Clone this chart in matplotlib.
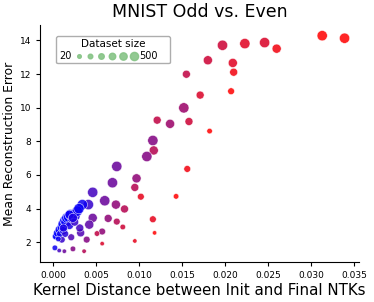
import matplotlib
matplotlib.use('Agg')
import matplotlib.pyplot as plt
import numpy as np

# kernel distance (x), reconstruction error (y), colour param (0=blue,1=red), size level (0..5)
kernel_dist = [0.0313, 0.0339, 0.0197, 0.0223, 0.0246, 0.0260, 0.0180, 0.0209, 0.0210, 0.0155,
               0.0171, 0.0207, 0.0152, 0.0158, 0.0182, 0.0121, 0.0136, 0.0116, 0.0117, 0.0109,
               0.0074, 0.0097, 0.0095, 0.0069, 0.0102, 0.0046, 0.0060, 0.0073, 0.0083, 0.0116,
               0.0046, 0.0064, 0.0074, 0.0081, 0.0057, 0.0051, 0.0118, 0.0095, 0.0057, 0.0143,
               0.0156, 0.0041, 0.0034, 0.0042, 0.0032, 0.0039, 0.0021, 0.0023, 0.0036, 0.0013,
               0.0007, 0.0002, 0.0010, 0.0004,
               0.0003, 0.0005, 0.0007, 0.0008, 0.0010, 0.0011, 0.0012, 0.0013, 0.0015, 0.0016,
               0.0018, 0.0019, 0.0020, 0.0022, 0.0024, 0.0026, 0.0028, 0.0030, 0.0031, 0.0014,
               0.0012, 0.0006, 0.0025, 0.0019, 0.0023]
recon_err = [14.28, 14.13, 13.71, 13.81, 13.87, 13.51, 12.82, 12.66, 12.11, 11.99,
             10.75, 10.98, 9.99, 9.18, 8.61, 9.26, 9.04, 8.05, 7.46, 7.10,
             6.51, 5.80, 5.26, 5.54, 4.71, 4.97, 4.47, 4.24, 3.98, 3.37,
             3.45, 3.42, 3.23, 2.91, 2.64, 2.52, 2.56, 2.08, 1.92, 4.73,
             6.36, 4.24, 4.24, 3.05, 2.56, 2.16, 2.30, 1.61, 1.47, 1.47,
             1.51, 1.67, 2.16, 2.36,
             2.35, 2.55, 2.75, 2.50, 2.90, 3.10, 2.70, 3.30, 3.20, 3.45,
             3.50, 3.00, 3.65, 3.40, 3.70, 3.55, 3.85, 4.00, 2.85, 2.50,
             2.85, 2.20, 3.20, 3.64, 3.45]
hue = [1.0, 1.0, 0.8, 0.88, 0.85, 0.95, 0.8, 0.88, 0.95, 0.75,
       0.85, 1.0, 0.6, 0.8, 1.0, 0.75, 0.6, 0.5, 0.7, 0.5,
       0.4, 0.55, 0.7, 0.4, 0.9, 0.25, 0.4, 0.55, 0.7, 0.9,
       0.4, 0.55, 0.7, 0.8, 0.55, 0.75, 1.0, 0.9, 0.85, 1.0,
       0.95, 0.2, 0.05, 0.35, 0.3, 0.5, 0.3, 0.5, 0.7, 0.4,
       0.25, 0.05, 0.2, 0.0,
       0.0, 0.0, 0.02, 0.05, 0.0, 0.0, 0.05, 0.0, 0.02, 0.0,
       0.0, 0.1, 0.02, 0.1, 0.05, 0.1, 0.05, 0.03, 0.25, 0.15,
       0.1, 0.05, 0.2, 0.05, 0.1]
size_lvl = [5, 5, 5, 5, 5, 4, 4, 4, 3, 3,
            3, 2, 5, 3, 1, 3, 4, 5, 4, 5,
            5, 4, 3, 5, 2, 5, 5, 4, 3, 2,
            4, 3, 2, 1, 2, 1, 0, 0, 0, 1,
            2, 5, 5, 4, 3, 2, 2, 1, 0, 0,
            0, 1, 2, 2,
            2, 3, 3, 2, 4, 4, 3, 4, 5, 5,
            5, 3, 5, 4, 4, 4, 5, 5, 3, 2,
            3, 1, 3, 4, 4]
marker_s = [10, 16, 24, 33, 43, 55]
legend_s = [7, 11, 16, 22, 28, 35]

x = np.array(kernel_dist)
y = np.array(recon_err)
c = np.array(hue)
cols = np.column_stack([c, np.zeros_like(c), 1 - c])
sizes = np.array([marker_s[i] for i in size_lvl])

fig = plt.figure(figsize=(3.74, 3.02), dpi=100)
ax = fig.add_axes([0.108, 0.1325, 0.852, 0.785])
ax.scatter(x, y, s=sizes, c=cols, alpha=0.85, edgecolors='white', linewidths=0.4)

ax.spines['top'].set_visible(False)
ax.spines['right'].set_visible(False)
ax.set_xticks([0.000, 0.005, 0.010, 0.015, 0.020, 0.025, 0.030, 0.035])
ax.set_yticks([2, 4, 6, 8, 10, 12, 14])
ax.tick_params(labelsize=6.5, length=3)
ax.set_title('MNIST Odd vs. Even', fontsize=12.5)
ax.set_xlabel('Kernel Distance between Init and Final NTKs', fontsize=10.8, labelpad=2)
ax.set_ylabel('Mean Reconstruction Error', fontsize=8.9, labelpad=3)

# size legend
handles = [ax.scatter([], [], s=s, color='#86c486', alpha=0.9) for s in legend_s]
handles.append(ax.scatter([], [], s=1, color='none'))
labels = ['20', '', '', '', '', '', '500']
ax.legend(handles, labels, title='Dataset size', ncol=7, markerfirst=False,
          loc='upper left', bbox_to_anchor=(0.035, 0.975), fontsize=7, title_fontsize=7.5,
          handlelength=0.6, handletextpad=0.4, columnspacing=0.15, borderpad=0.3,
          labelspacing=0.2, frameon=True, edgecolor='#999999')

fig.savefig('out.png', dpi=100)
